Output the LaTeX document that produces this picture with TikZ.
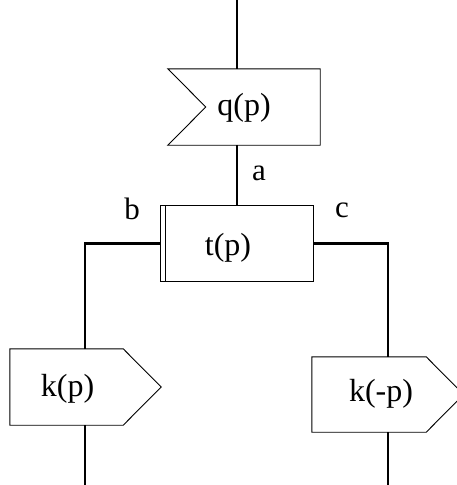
\documentclass[tikz,border=0pt]{standalone}
\usepackage{fontspec}
\setmainfont{Liberation Serif}
\usetikzlibrary{calc}
\begin{document}
\begin{tikzpicture}[x=1pt,y=-1pt,
  box/.style={rectangle,draw=none,inner sep=0pt,font=\fontsize{32}{38}\selectfont},
  outline/.style={line width=0.9pt,black},
  conn/.style={line width=2.3pt,black},
  lab/.style={inner sep=0pt,anchor=base,font=\fontsize{31}{37}\selectfont}]
\useasboundingbox (0,0) rectangle (457,485);
% boxes
\node[box,minimum width=152pt,minimum height=76pt,label={[box,yshift=-1pt]center:q(p)}] (q) at (244,107) {};
\node[box,minimum width=152pt,minimum height=75pt,label={[box,xshift=-9pt,yshift=-4.5pt]center:t(p)}] (t) at (237,243.5) {};
\node[box,minimum width=113pt,minimum height=76pt,label={[box,xshift=1pt,yshift=-2pt]center:k(p)}] (kp) at (66.5,387) {};
\node[box,minimum width=114pt,minimum height=75pt,label={[box,xshift=12pt,yshift=1pt]center:k(-p)}] (km) at (369,394.5) {};
% outlines
\draw[outline] (q.north west) -- (q.north east) -- (q.south east) -- (q.south west)
  -- ($(q.west)+(38,0)$) -- cycle;
\draw[outline] (t.north west) rectangle (t.south east);
\draw[outline] ($(t.north west)+(5,0)$) -- ($(t.south west)+(5,0)$);
\draw[outline] (kp.north west) -- (kp.north east) -- ($(kp.east)+(38,0)$) -- (kp.south east)
  -- (kp.south west) -- cycle;
\draw[outline] (km.north west) -- (km.north east) -- ($(km.east)+(37.5,0)$) -- (km.south east)
  -- (km.south west) -- cycle;
% connector end points
\coordinate (top) at (237,0);
\coordinate (kpin) at (85,349);
\coordinate (kpout) at (85,425);
\coordinate (kpend) at (85,485);
\coordinate (kmin) at (388,357);
\coordinate (kmout) at (388,432);
\coordinate (kmend) at (388,485);
% connectors
\draw[conn] (top) -- (top |- q.north);
\draw[conn] (t.north |- q.south) -- (t.north);
\draw[conn] (t.west) -| (kpin);
\draw[conn] (t.east) -| (kmin);
\draw[conn] (kpout) -- (kpend);
\draw[conn] (kmout) -- (kmend);
% labels
\node[lab] (la) at (259,180) {a};
\node[lab] (lb) at (132,219) {b};
\node[lab] (lc) at (342,217) {c};
\end{tikzpicture}
\end{document}
